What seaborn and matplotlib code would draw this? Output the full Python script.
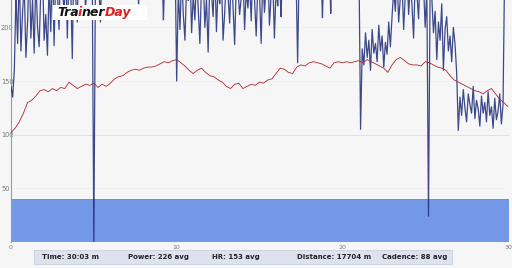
import numpy as np
import pandas as pd
import matplotlib
matplotlib.use("Agg")
import matplotlib.pyplot as plt
from matplotlib.patches import Rectangle
import seaborn as sns

# ---------------- data ----------------
power_step_min = 0.1
power_w = [
    145, 135, 160,
    230, 185, 252, 178, 215, 240, 172, 205, 262, 190, 226, 176, 248, 200, 182, 236, 256, 188, 212, 174, 241, 196, 266, 183,
    250, 232, 198, 270, 245, 210, 262, 190, 255, 240, 171, 268, 228, 205, 275, 248, 236, 260, 215, 252, 270, 238, 258,
    0,
    255, 270, 240, 205, 262, 280, 248, 236, 268, 245, 258, 275, 244, 290, 252, 230, 266, 250, 255, 272, 260, 285, 245, 238,
    270, 256, 222, 264, 280, 249, 258, 240, 275, 268, 262, 262, 250, 283, 244, 230, 270, 207, 258, 276, 248, 262, 240, 254, 270,
    150,
    235, 198, 250, 212, 188, 242, 225, 260, 195, 230, 207, 248, 218, 185, 240, 252, 200, 226, 177, 245,
    232, 210, 258, 196, 238, 222, 250, 188, 214, 246, 230, 204, 255, 220, 184, 242, 236, 212, 228, 250,
    198, 235, 218, 244, 206, 258, 226, 192, 240, 232, 185, 248, 214, 238, 256, 202, 230, 245, 190, 236,
    220, 252, 210,
    265, 250, 280, 258, 272, 245, 262, 285, 255,
    167,
    260, 275, 248, 282, 266, 252, 270, 290, 258, 246, 268, 278, 255, 262, 209, 270, 284, 250, 265, 213,
    276, 258, 288, 262, 248, 272, 266, 280, 254, 270, 260, 286, 250, 268, 275, 258, 264,
    105,
    180, 165, 195, 172, 188, 160, 198, 176, 185, 168, 202, 178, 192, 163, 186, 175, 205, 182,
    210,
    235, 215, 250, 205, 228, 242, 198, 230, 255, 212, 238, 222, 190, 245, 232, 208, 250, 226, 240, 200, 236,
    24,
    240, 228, 195, 215, 170, 205, 188, 222, 160, 198, 210, 178, 192, 168, 200, 185, 158,
    104,
    135, 118, 142, 125, 112, 138, 128, 120, 145, 115, 132, 124, 108, 136, 120, 130, 112, 140, 118, 126,
    106, 134, 114, 122, 138, 110, 128,
    260, 275, 255,
]

hr_step_min = 0.25
hr_bpm = [
    102, 106, 112, 120, 130, 132, 136, 141, 142, 140, 143, 141, 144, 143, 149, 146,
    143, 145, 147, 146, 148, 144, 147, 145, 148, 152, 154, 155, 158, 160, 161, 160,
    162, 163, 163, 164, 166, 168, 167, 169, 170, 167, 164, 160, 157, 160, 162, 158,
    155, 154, 151, 149, 145, 143, 147, 148, 143, 145, 147, 146, 149, 148, 151, 152,
    157, 162, 161, 158, 157, 163, 165, 164, 167, 168, 167, 166, 164, 162, 167, 168,
    167, 168, 167, 168, 169, 167, 170, 168, 166, 164, 162, 158, 165, 170, 172, 169,
    166, 165, 165, 164, 168, 167, 165, 163, 162, 160, 155, 151, 149, 147, 145, 143,
    141, 140, 138, 141, 143, 138, 133, 130, 126,
]

target_power = 40
ref_line = 100
x_ticks = [0, 5, 10, 15, 20, 25, 30]
x_tick_labels = ["0", "", "10", "", "20", "", "30"]
y_ticks = [50, 100, 150, 200]
footer_items = ["Time: 30:03 m", "Power: 226 avg", "HR: 153 avg", "Distance: 17704 m", "Cadence: 88 avg"]
logo_parts = [("Tra", "#111111"), ("i", "#e02020"), ("ner", "#111111"), ("Day", "#e02020")]

power_df = pd.DataFrame({"t": np.arange(len(power_w)) * power_step_min, "power": power_w})
hr_df = pd.DataFrame({"t": np.arange(len(hr_bpm)) * hr_step_min, "hr": hr_bpm})

# ---------------- figure ----------------
sns.set_theme(style="white")
bg = "#f6f6f6"
W, H = 512, 268
fig = plt.figure(figsize=(5.12, 2.68), dpi=100, facecolor=bg)
ax = fig.add_axes([11 / W, 26 / H, 498 / W, 242 / H])
ax.set_facecolor(bg)

ax.fill_between([0, 30.06], 0, target_power, color="#7399e6", lw=0, zorder=1)
ax.axhline(target_power, color="#6a8fe0", lw=0.6, zorder=1)
ax.axhline(ref_line, color="#f3e0b0", lw=0.7, zorder=1)
for yv in y_ticks:
    ax.axhline(yv, color="#eeeeee", lw=0.5, zorder=0)

sns.lineplot(data=power_df, x="t", y="power", ax=ax, color="#1c2b78", lw=0.9, alpha=0.85, zorder=3)
sns.lineplot(data=hr_df, x="t", y="hr", ax=ax, color="#b02630", lw=0.6, zorder=4)

ax.set_xlim(0, 30.06)
ax.set_ylim(0, 225.5)
ax.set_xlabel("")
ax.set_ylabel("")
ax.set_xticks(x_ticks)
ax.set_xticklabels(x_tick_labels)
ax.set_yticks(y_ticks)
ax.set_yticklabels([str(v) for v in y_ticks])
ax.tick_params(axis="x", length=2, width=0.6, color="#4a5a90", labelsize=4.5, labelcolor="#777777", pad=2, direction="in")
ax.tick_params(axis="y", length=0, labelsize=4.8, labelcolor="#777777", pad=7.2)
for lab in ax.get_yticklabels():
    lab.set_horizontalalignment("left")
for s in ["top", "right", "bottom"]:
    ax.spines[s].set_visible(False)
ax.spines["left"].set_color("#8f9bb8")
ax.spines["left"].set_linewidth(0.8)

# logo
logo_bg = Rectangle((53 / W, 1 - 20 / H), 94 / W, 15 / H, transform=fig.transFigure,
                    facecolor="white", edgecolor="none", zorder=5)
fig.patches.append(logo_bg)
fig.canvas.draw()
renderer = fig.canvas.get_renderer()
xpix = 57.0
gaps = [-0.6, -0.6, -0.9, 0.0]
for (s, c), g in zip(logo_parts, gaps):
    t = fig.text(xpix / W, 1 - 16 / H, s, color=c, va="baseline", ha="left",
                 fontsize=9.0, fontweight="bold", fontstyle="italic", family="DejaVu Sans", zorder=6)
    bb = t.get_window_extent(renderer)
    xpix = bb.x1 + g

# footer
footer = Rectangle((34 / W, 4 / H), 418 / W, 14 / H, transform=fig.transFigure,
                   facecolor="#dde2ee", edgecolor="#c9cfe0", lw=0.6)
fig.patches.append(footer)
centers = [70, 158, 236, 334, 415]
for cx, txt in zip(centers, footer_items):
    fig.text(cx / W, 11 / H, txt, ha="center", va="center", fontsize=5, fontweight="bold", color="#222222")

fig.savefig("out.png", dpi=100, facecolor=bg)
